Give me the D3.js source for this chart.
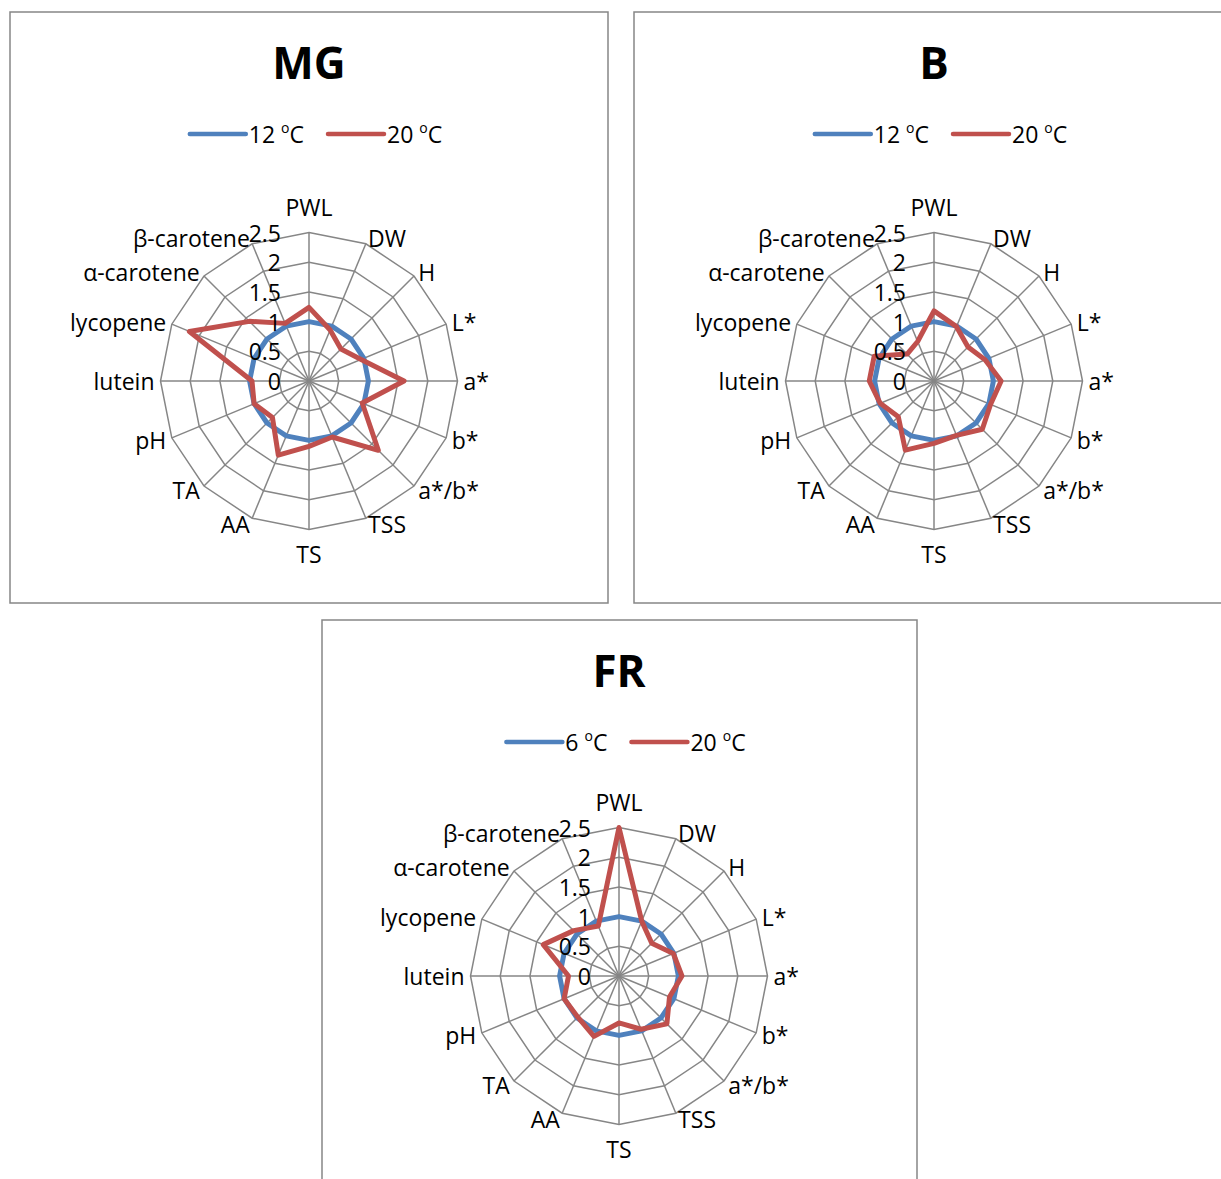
<!DOCTYPE html>
<html>
<head>
<meta charset="utf-8">
<script src="https://cdn.jsdelivr.net/npm/d3@7"></script>
<style>
  body { margin: 0; background: #fff; }
  text { font-family: "Open Sans", sans-serif; fill: #000; }
</style>
</head>
<body>
<svg width="1221" height="1179"></svg>
<script>
// categories round the radar, clockwise from the top
var categories = ["PWL", "DW", "H", "L*", "a*", "b*", "a*/b*", "TSS", "TS", "AA", "TA", "pH",
    "lutein", "lycopene", "α-carotene", "β-carotene"];
var ticks = [0, 0.5, 1, 1.5, 2, 2.5];

// MG
var mgLow = [1, 1, 1, 1, 1, 1, 1, 1, 1, 1, 1, 1, 1, 1, 1, 1];
var mgHigh = [1.24, 0.93, 0.76, 0.95, 1.6, 0.97, 1.65, 1.02, 1.1, 1.35, 0.87, 1.0, 0.96, 2.18, 1.42, 1.05];
// B
var bLow = [1, 1, 1, 1, 1, 1, 1, 1, 1, 1, 1, 1, 1, 1, 1, 1];
var bHigh = [1.18, 0.99, 0.81, 0.93, 1.13, 1.03, 1.15, 0.99, 1.05, 1.26, 0.85, 0.98, 1.09, 1.09, 0.64, 0.72];
// FR
var frLow = [1, 1, 1, 1, 1, 1, 1, 1, 1, 1, 1, 1, 1, 1, 1, 1];
var frHigh = [2.5, 1.0, 0.78, 0.99, 1.06, 0.92, 1.14, 0.97, 0.79, 1.1, 0.98, 1.0, 0.85, 1.38, 1.08, 0.91];

var colors = ["#4F81BD", "#C0504D"];
var gray = "#868686";

var panels = [
    { title: "MG", x: 10, y: 12, w: 598, h: 591, cx: 309, cy: 381, temps: ["12", "20"], series: [mgLow, mgHigh] },
    { title: "B", x: 634, y: 12, w: 598, h: 591, cx: 934, cy: 381, temps: ["12", "20"], series: [bLow, bHigh] },
    { title: "FR", x: 322, y: 620, w: 595, h: 591, cx: 619, cy: 976, temps: ["6", "20"], series: [frLow, frHigh] }
];

var svg = d3.select("svg");
var R = 148.5;
var rScale = d3.scaleLinear().domain([0, 2.5]).range([0, R]);
var angle = i => i * 2 * Math.PI / categories.length;

panels.forEach(p => {
    svg.append("rect")
        .attr("x", p.x).attr("y", p.y)
        .attr("width", p.w).attr("height", p.h)
        .attr("fill", "#fff")
        .attr("stroke", gray)
        .attr("stroke-width", 1.5);

    var cx = p.cx, cy = p.cy;

    svg.append("text")
        .attr("x", cx).attr("y", p.y + 50)
        .attr("text-anchor", "middle")
        .attr("dominant-baseline", "central")
        .attr("font-size", 44)
        .attr("font-weight", "bold")
        .text(p.title);

    // legend
    var leg = svg.append("g");
    var xPos = 0;
    p.temps.forEach((t, k) => {
        leg.append("line")
            .attr("x1", xPos).attr("x2", xPos + 56)
            .attr("y1", 0).attr("y2", 0)
            .attr("stroke", colors[k])
            .attr("stroke-width", 4.5)
            .attr("stroke-linecap", "round");
        var txt = leg.append("text")
            .attr("x", xPos + 59).attr("y", 0)
            .attr("dominant-baseline", "central")
            .attr("font-size", 23);
        txt.append("tspan").text(t + " ");
        txt.append("tspan").attr("font-size", 14).attr("dy", -7).text("o");
        txt.append("tspan").attr("dy", 7).text("C");
        xPos += 59 + txt.node().getComputedTextLength() + 24;
    });
    var legW = xPos - 24;
    leg.attr("transform", `translate(${cx + 7 - legW / 2}, ${p.y + 122})`);

    var g = svg.append("g").attr("transform", `translate(${cx}, ${cy})`);

    // rings
    ticks.slice(1).forEach(t => {
        g.append("path")
            .attr("d", d3.lineRadial().angle((d, i) => angle(i)).radius(rScale(t))
                .curve(d3.curveLinearClosed)(categories))
            .attr("fill", "none")
            .attr("stroke", gray)
            .attr("stroke-width", 1.5);
    });
    // spokes
    categories.forEach((c, i) => {
        var a = angle(i);
        g.append("line")
            .attr("x1", 0).attr("y1", 0)
            .attr("x2", R * Math.sin(a)).attr("y2", -R * Math.cos(a))
            .attr("stroke", gray)
            .attr("stroke-width", 1.5);
    });

    // category labels
    categories.forEach((c, i) => {
        var a = angle(i);
        var dx = Math.sin(a), dy = -Math.cos(a);
        var px = (R + 6) * dx, py = (R + 6) * dy;
        var anchor = "middle";
        if (dx > 0.1) anchor = "start";
        else if (dx < -0.1) anchor = "end";
        else py += dy < 0 ? -20 : 18;
        g.append("text")
            .attr("x", px).attr("y", py)
            .attr("text-anchor", anchor)
            .attr("dominant-baseline", "central")
            .attr("font-size", 23)
            .text(c);
    });

    // series
    p.series.forEach((s, k) => {
        g.append("path")
            .attr("d", d3.lineRadial().angle((d, i) => angle(i)).radius(d => rScale(d))
                .curve(d3.curveLinearClosed)(s))
            .attr("fill", "none")
            .attr("stroke", colors[k])
            .attr("stroke-width", 5)
            .attr("stroke-linejoin", "round");
    });

    // tick labels
    ticks.forEach(t => {
        g.append("text")
            .attr("x", -28).attr("y", -rScale(t))
            .attr("text-anchor", "end")
            .attr("dominant-baseline", "central")
            .attr("font-size", 23)
            .text(t);
    });
});
</script>
</body>
</html>
